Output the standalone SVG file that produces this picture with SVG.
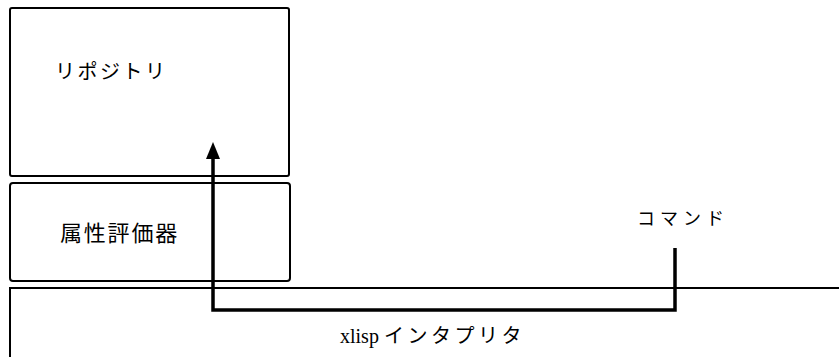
<svg xmlns="http://www.w3.org/2000/svg" width="839" height="357" viewBox="0 0 839 357">
  <style>
    .box { fill: #fff; stroke: #000; stroke-width: 2; }
    .lbl { font-family: "Liberation Serif", "Noto Sans CJK JP", serif; fill: #000; }
    .flow { fill: none; stroke: #000; stroke-width: 3.5; stroke-linejoin: miter; }
  </style>
  <rect width="839" height="357" fill="#fff"/>

  <g id="repository">
    <rect class="box" x="10" y="8" width="279" height="168" rx="2"/>
    <text class="lbl" x="55" y="79" font-size="20" letter-spacing="2.5">リポジトリ</text>
  </g>

  <g id="evaluator">
    <rect class="box" x="10" y="183" width="280" height="98" rx="3"/>
    <text class="lbl" x="60" y="241" font-size="22" letter-spacing="1.8">属性評価器</text>
  </g>

  <g id="interpreter">
    <path class="box" d="M10,357 V288 H839" fill="none"/>
    <text class="lbl" x="340" y="343" font-size="20">xlisp <tspan letter-spacing="3.5">インタプリタ</tspan></text>
  </g>

  <g id="command">
    <text class="lbl" x="637" y="225" font-size="18" letter-spacing="5">コマンド</text>
  </g>

  <g id="connectors">
    <path class="flow" d="M675,248 V310 H213 V158"/>
    <polygon points="213,142 206,159 220,159" fill="#000"/>
  </g>
</svg>
